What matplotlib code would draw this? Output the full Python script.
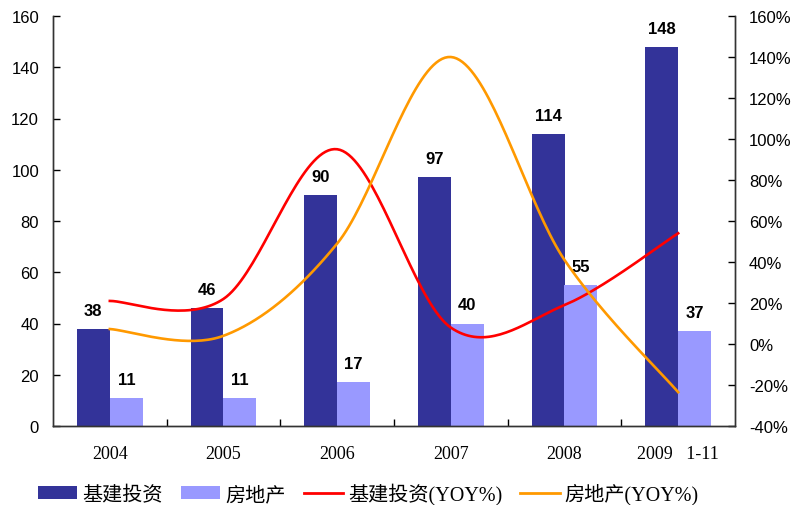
import numpy as np
import matplotlib
matplotlib.use("Agg")
import matplotlib.pyplot as plt
from matplotlib.patches import Patch
from matplotlib.lines import Line2D

# ---- data ----
categories = ["2004", "2005", "2006", "2007", "2008", "2009   1-11"]
infra_invest = [38, 46, 90, 97, 114, 148]          # 基建投资
real_estate = [11, 11, 17, 40, 55, 37]             # 房地产
infra_yoy = [21, 22, 95, 8, 19, 54]                # 基建投资(YOY%)
real_estate_yoy = [7.3, 4, 49, 140, 41, -23.5]     # 房地产(YOY%)

DARK = "#333399"
LIGHT = "#9999FF"
RED = "#FF0000"
ORANGE = "#FF9900"

plt.rcParams["font.family"] = ["Liberation Sans", "DejaVu Sans"]


def smooth(xs, ys, n=40):
    """Cubic Bezier smoothing through every point (spreadsheet-style)."""
    P = np.column_stack([xs, ys]).astype(float)
    ext = np.vstack([P[0], P, P[-1]])
    out = []
    for i in range(len(P) - 1):
        p0, p1 = P[i], P[i + 1]
        c1 = p0 + (ext[i + 2] - ext[i]) / 6.0
        c2 = p1 - (ext[i + 3] - ext[i + 1]) / 6.0
        t = np.linspace(0, 1, n)[:, None]
        seg = ((1 - t) ** 3) * p0 + 3 * ((1 - t) ** 2) * t * c1 \
            + 3 * (1 - t) * t ** 2 * c2 + t ** 3 * p1
        out.append(seg if i == 0 else seg[1:])
    seg = np.vstack(out)
    return seg[:, 0], seg[:, 1]


fig = plt.figure(figsize=(7.97, 5.06), dpi=100)
ax = fig.add_axes([53 / 797, 1 - 427 / 506, (735 - 53) / 797, (427 - 17) / 506])
ax2 = ax.twinx()

x = np.arange(len(categories))
w = 0.29
b1 = ax.bar(x - w / 2, infra_invest, w, color=DARK, zorder=2)
b2 = ax.bar(x + w / 2, real_estate, w, color=LIGHT, zorder=2)

for bars, vals in ((b1, infra_invest), (b2, real_estate)):
    for r, v in zip(bars, vals):
        ax.annotate(f"{v}", (r.get_x() + r.get_width() / 2, v),
                    xytext=(0, 8), textcoords="offset points",
                    ha="center", va="bottom", fontsize=12, fontweight="bold")

sx, sy = smooth(x, infra_yoy)
ax2.plot(sx, sy, color=RED, lw=1.9, zorder=3)
sx, sy = smooth(x, real_estate_yoy)
ax2.plot(sx, sy, color=ORANGE, lw=1.9, zorder=3)

# keep the lines drawn above the bars
ax.set_zorder(1)
ax2.set_zorder(2)
ax2.patch.set_visible(False)

ax.set_xlim(-0.5, len(categories) - 0.5)
ax.set_ylim(0, 160)
ax.set_yticks(np.arange(0, 161, 20))
ax2.set_ylim(-40, 160)
ax2.set_yticks(np.arange(-40, 161, 20))
ax2.set_yticklabels([f"{v}%" for v in range(-40, 161, 20)])

ax.set_xticks(x)
ax.set_xticklabels(categories, fontfamily="Liberation Serif", fontsize=13)
ax.set_xticks(np.arange(0.5, len(categories) - 0.5, 1), minor=True)
ax.tick_params(axis="x", which="major", length=0, pad=14)
ax.tick_params(axis="x", which="minor", direction="in", length=5, width=1)
ax.tick_params(axis="y", direction="in", length=5, width=1, labelsize=12, pad=10)
ax2.tick_params(axis="y", direction="in", length=5, width=1, labelsize=12, pad=10)

for a in (ax, ax2):
    a.spines["top"].set_visible(False)
    for s in ("left", "right", "bottom"):
        a.spines[s].set_color("#333333")
        a.spines[s].set_linewidth(1)

handles = [
    Patch(facecolor=DARK, edgecolor="none"),
    Patch(facecolor=LIGHT, edgecolor="none"),
    Line2D([], [], color=RED, lw=2),
    Line2D([], [], color=ORANGE, lw=2),
]
labels = ["基建投资", "房地产", "基建投资(YOY%)", "房地产(YOY%)"]
fig.legend(handles, labels, loc="center left",
           bbox_to_anchor=(38 / 797, 1 - 495 / 506), ncol=4, frameon=False,
           prop={"family": ["Liberation Serif", "Noto Sans CJK SC"], "size": 14.5},
           handlelength=1.95, handleheight=0.6, handletextpad=0.25,
           columnspacing=0.9, borderpad=0, borderaxespad=0)

fig.savefig("out.png", dpi=100)
